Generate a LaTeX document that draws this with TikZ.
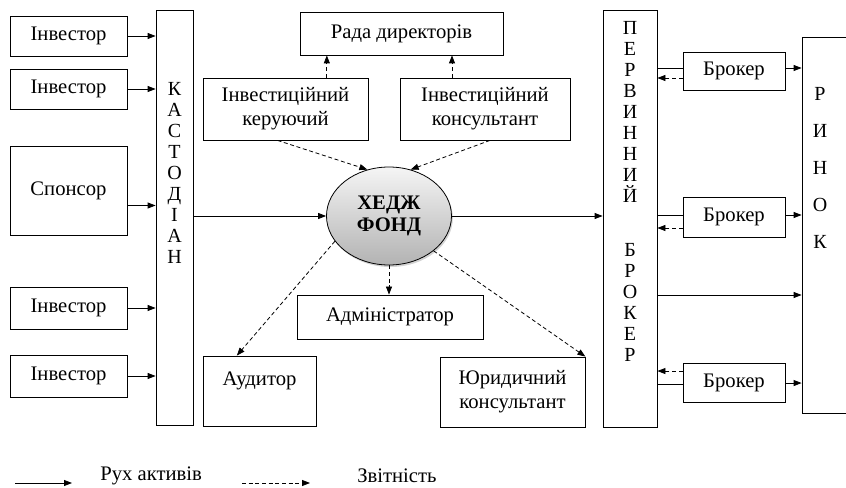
\documentclass[tikz,border=0pt]{standalone}
\usepackage{fontspec}
\setmainfont{Liberation Serif}
\usetikzlibrary{arrows.meta,positioning,shapes.geometric,shadows}

\begin{document}
\begin{tikzpicture}[
    x=0.75pt, y=-0.75pt,
    box/.style={
        % the frame
        draw, line width=0.6pt, rectangle, inner sep=0pt,
        align=center,
        % the font
        font=\fontsize{15.5}{18}\selectfont},
    letters/.style={align=center, inner sep=0pt, font=\fontsize{15}{15.75}\selectfont},
    flow/.style={line width=0.6pt, -{Triangle[length=6pt,width=4.5pt]}},
    report/.style={flow, dash pattern=on 3pt off 2pt},
    link/.style={line width=0.6pt}]
  \useasboundingbox (0,0) rectangle (846,488);
  % investors and sponsor
  \node (inva) [box, minimum width=87.75pt, minimum height=30pt] at (68.5,36) {Інвестор};
  \node (invb) [box, minimum width=87.75pt, minimum height=30pt] at (68.5,89) {Інвестор};
  \node (sponsor) [box, minimum width=87.75pt, minimum height=66.75pt] at (68.5,190.5) {Спонсор};
  \node (invc) [box, minimum width=87.75pt, minimum height=31.5pt] at (68.5,308) {Інвестор};
  \node (invd) [box, minimum width=87.75pt, minimum height=31.5pt] at (68.5,376) {Інвестор};
  % custodian
  \node (kast) [box, minimum width=27.75pt, minimum height=311.25pt] at (174.5,217.5) {};
  \node (kastlbl) [letters] at (174.5,172.5) {К\\А\\С\\Т\\О\\Д\\І\\А\\Н};
  % fund and its services
  \node (rada) [box, minimum width=152.25pt, minimum height=32.25pt] at (401.5,33.5) {Рада директорів};
  \node (keruy) [box, minimum width=123.75pt, minimum height=46.5pt] at (285.5,109) {Інвестиційний\\керуючий};
  \node (konsul) [box, minimum width=127.5pt, minimum height=46.5pt] at (485,109) {Інвестиційний\\консультант};
  \node (fond) [ellipse, draw, line width=0.6pt, minimum width=93.75pt, minimum height=73.5pt,
      top color=gray!8, bottom color=gray!60, drop shadow={shadow xshift=1pt, shadow yshift=-1.5pt, opacity=0.35},
      align=center, font=\fontsize{15.5}{16}\selectfont\bfseries] at (389,216) {ХЕДЖ\\ФОНД};
  \node (admin) [box, minimum width=139.5pt, minimum height=33pt] at (390,317) {Адміністратор};
  \node (audit) [box, minimum width=84.75pt, minimum height=52.5pt] at (259.5,391) {Аудитор\\\mbox{}};
  \node (jurid) [box, minimum width=108.75pt, minimum height=52.5pt] at (512.5,392) {Юридичний\\консультант};
  % prime broker, brokers, market
  \node (perv) [box, minimum width=40.5pt, minimum height=312.75pt] at (630,218.5) {};
  \node (pervlbl) [letters] at (630,191.5) {П\\Е\\Р\\В\\И\\Н\\Н\\И\\Й\\[24.75pt]Б\\Р\\О\\К\\Е\\Р};
  \node (brokA) [box, minimum width=76.5pt, minimum height=28.5pt] at (734,71) {Брокер};
  \node (brokB) [box, minimum width=76.5pt, minimum height=30pt] at (734,217) {Брокер};
  \node (brokC) [box, minimum width=76.5pt, minimum height=29.25pt] at (734,382.5) {Брокер};
  \node (ryn) [box, minimum width=36pt, minimum height=282pt] at (826,225) {};
  \node (rynlbl) [letters, font=\fontsize{15}{27.75}\selectfont] at (820,167.5) {Р\\И\\Н\\О\\К};
  % asset flows
  \draw[flow] (inva.east) -- (inva.east -| kast.west);
  \draw[flow] (invb.east) -- (invb.east -| kast.west);
  \draw[flow] ([yshift=-11.25pt]sponsor.east) -- ([yshift=-11.25pt]sponsor.east -| kast.west);
  \draw[flow] (invc.east) -- (invc.east -| kast.west);
  \draw[flow] (invd.east) -- (invd.east -| kast.west);
  \draw[flow] (kast.east |- fond.west) -- (fond.west);
  \draw[flow] (fond.east) -- (fond.east -| perv.west);
  \draw[link] ([yshift=2.25pt]brokA.west) -- ([yshift=2.25pt]brokA.west -| perv.east);
  \draw[link] ([yshift=1.5pt]brokB.west) -- ([yshift=1.5pt]brokB.west -| perv.east);
  \draw[link] ([yshift=-1.1pt]brokC.west) -- ([yshift=-1.1pt]brokC.west -| perv.east);
  \draw[flow] ([yshift=2.25pt]brokA.east) -- ([yshift=2.25pt]brokA.east -| ryn.west);
  \draw[flow] ([yshift=1.5pt]brokB.east) -- ([yshift=1.5pt]brokB.east -| ryn.west);
  \draw[flow] ([yshift=-0.4pt]brokC.east) -- ([yshift=-0.4pt]brokC.east -| ryn.west);
  \coordinate (pervout) at (perv.east |- 0,295);
  \draw[flow] (pervout) -- (pervout -| ryn.west);
  % reports
  \draw[report] ([yshift=-5.25pt]brokA.west) -- ([yshift=-5.25pt]brokA.west -| perv.east);
  \draw[report] ([yshift=-8.25pt]brokB.west) -- ([yshift=-8.25pt]brokB.west -| perv.east);
  \draw[report] ([yshift=8.6pt]brokC.west) -- ([yshift=8.6pt]brokC.west -| perv.east);
  \draw[report] ([xshift=31pt]keruy.north) -- ([xshift=31pt]keruy.north |- rada.south);
  \draw[report] ([xshift=-24.75pt]konsul.north) -- ([xshift=-24.75pt]konsul.north |- rada.south);
  \draw[report] ([xshift=-6pt]keruy.south) -- (fond.115);
  \draw[report] ([xshift=3.75pt]konsul.south) -- (fond.65);
  \draw[report] (fond.south) -- (fond.south |- admin.north);
  \draw[report] (fond.205) -- ([xshift=-17pt]audit.north);
  \draw[report] (fond.322) -- (jurid.north east);
  % legend
  \coordinate (lgA) at (15,483);
  \coordinate (lgB) at (72,483);
  \coordinate (lgC) at (242,483);
  \coordinate (lgD) at (310,483);
  \draw[flow] (lgA) -- (lgB);
  \draw[report] (lgC) -- (lgD);
  \node (lgflow) [anchor=west, inner sep=0pt, font=\fontsize{15.5}{18}\selectfont] at (100,476) {Рух активів};
  \node (lgreport) [anchor=west, inner sep=0pt, font=\fontsize{15.5}{18}\selectfont] at (357,476) {Звітність};
\end{tikzpicture}
\end{document}
